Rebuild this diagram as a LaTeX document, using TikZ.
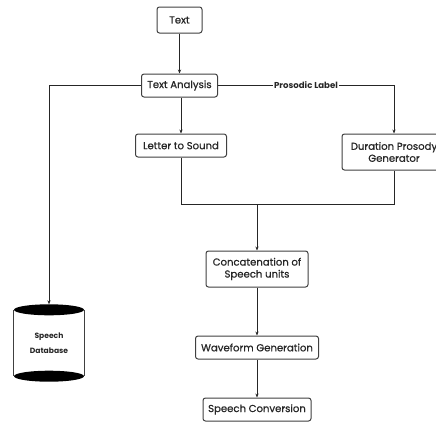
\documentclass[tikz,border=0pt]{standalone}
\usepackage{fontspec}
\setmainfont{Poppins}
\newfontfamily\medfont{Poppins}[FakeBold=0.6]
\usetikzlibrary{arrows.meta}
\begin{document}
\begin{tikzpicture}[x=1pt,y=-1pt,
    box/.style={draw=black!75, rounded corners=2.5pt, line width=1pt, fill=white,
      text=black!85, font=\medfont\fontsize{10.1}{12}\selectfont, align=center, inner sep=2pt},
    flow/.style={-{Stealth[length=4pt,width=3.2pt]}, line width=0.9pt, black!85}]
  \useasboundingbox (0,0) rectangle (436,423);
  \draw
    (179.5,20) node[box, minimum width=45pt, minimum height=26pt] (text){Text}
    (179.5,85.5) node[box, minimum width=76pt, minimum height=23pt] (analysis){Text Analysis}
    (181,145.5) node[box, minimum width=91pt, minimum height=23pt] (lts){Letter to Sound}
    (394,152) node[box, minimum width=104pt, minimum height=36pt] (dur){Duration Prosody\\Generator}
    (257,269) node[box, minimum width=102pt, minimum height=36pt] (concat){Concatenation of\\Speech units}
    (257,347.5) node[box, minimum width=123pt, minimum height=23pt] (wave){Waveform Generation}
    (257,409.5) node[box, minimum width=108pt, minimum height=23pt] (conv){Speech Conversion}
    (49,343) node[minimum width=70pt, minimum height=77pt, inner sep=0pt, text=black!85,
      font=\bfseries\fontsize{7.6}{15}\selectfont, align=center] (db){Speech\\Database};
  % database cylinder
  \draw[line width=1pt, black!75] (db.north west) ++(0,5.5) -- ++(0,66);
  \draw[line width=1pt, black!75] (db.north east) ++(0,5.5) -- ++(0,66);
  \fill[black] (db.north) ++(0,5.5) ellipse (35pt and 5.5pt);
  \fill[black] (db.south) ++(0,-5.5) ellipse (35pt and 5.5pt);
  \coordinate (join) at (257,204);
  \begin{scope}[flow]
    \draw (text) to (analysis);
    \draw (analysis.south -| lts.north) to (lts.north);
    \draw (analysis.west) -| (db.north);
    \draw (analysis.east) -| node[pos=0.25, fill=white, inner sep=1pt, text=black!85,
      font=\bfseries\fontsize{8.6}{10}\selectfont] (prosody){Prosodic Label} (dur.north);
    \draw[-] (lts.south) |- (join);
    \draw[-] (dur.south) |- (join);
    \draw (join) to (concat.north);
    \draw (concat) to (wave);
    \draw (wave) to (conv);
  \end{scope}
\end{tikzpicture}
\end{document}
